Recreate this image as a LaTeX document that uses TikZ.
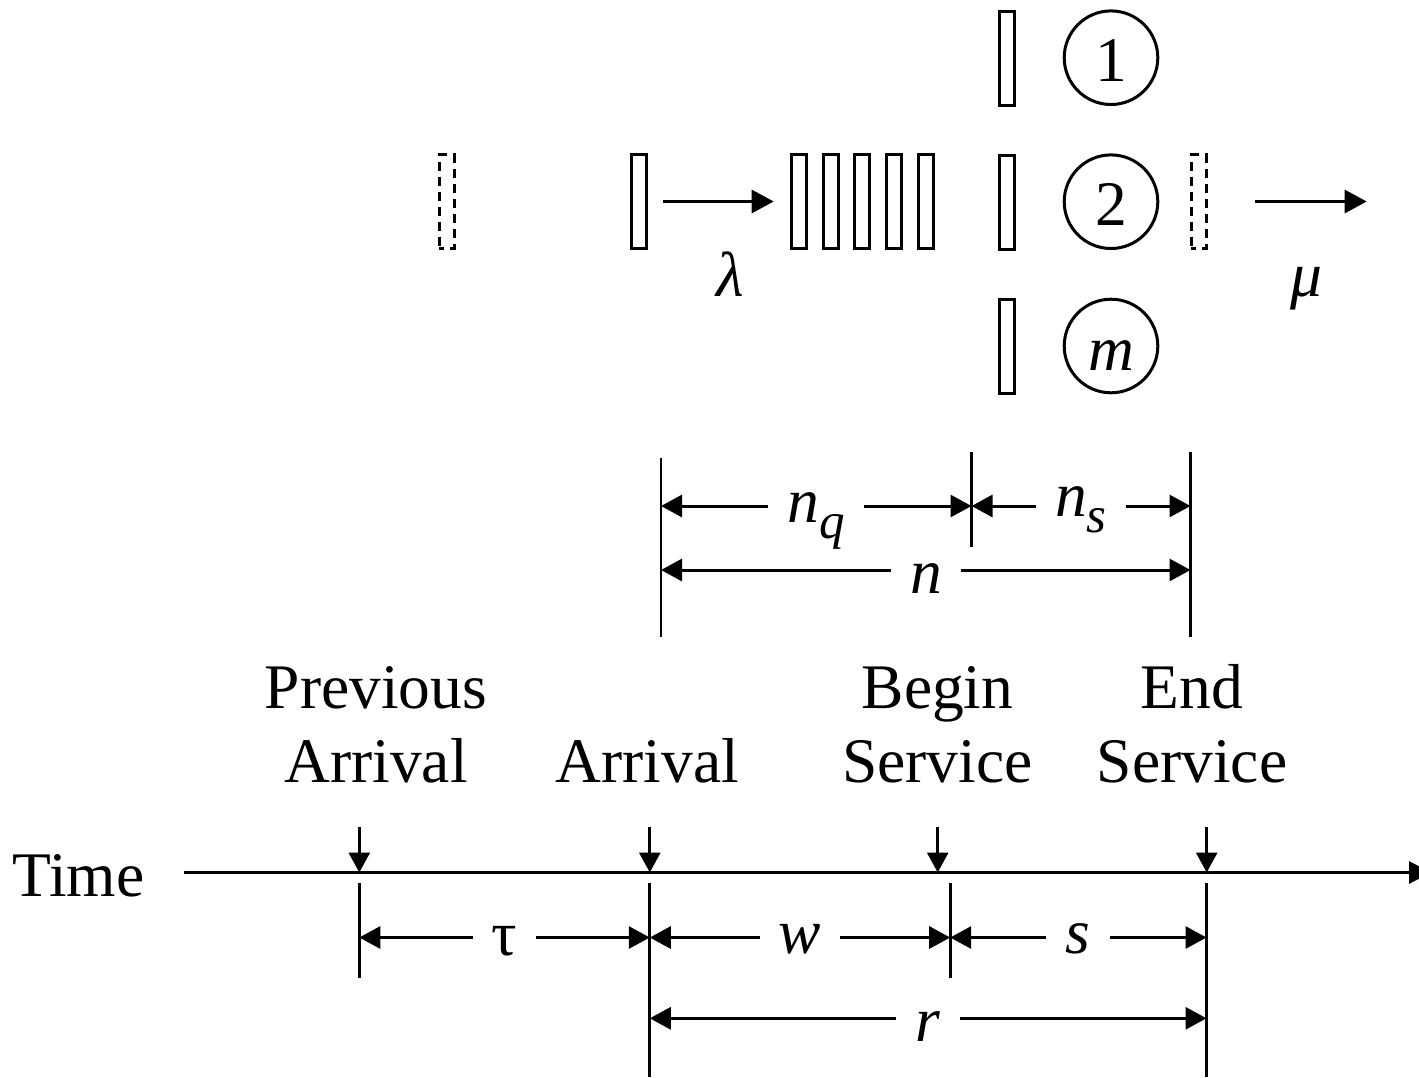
\documentclass[tikz,border=0pt]{standalone}
\usepackage{fontspec}
\setmainfont{Liberation Serif}
\usetikzlibrary{arrows.meta}
\newcommand\lowsub[1]{\raisebox{-16pt}{\fontsize{51pt}{51pt}\selectfont\textit{#1}}}
\tikzset{
  lbl/.style={font=\fontsize{63.5pt}{74.5pt}\selectfont, inner sep=0pt},
  dimlbl/.style={lbl, inner xsep=19pt},
  qbox/.style={draw, line width=3pt, minimum width=15pt, minimum height=94pt, inner sep=0pt},
  dbox/.style={qbox, line width=3pt, dash pattern=on 9pt off 6pt, dash phase=4pt},
  srv/.style={draw, circle, line width=3pt, minimum size=93.6pt, inner sep=0pt,
              text height=48pt, text depth=0pt, font=\fontsize{63.5pt}{74.5pt}\selectfont},
  flow/.style={line width=3pt, -{Triangle[length=22pt,width=23pt]}},
  dim/.style={line width=3pt, -{Triangle[length=21pt,width=22pt]}},
  tick/.style={line width=2.8pt, -{Triangle[length=20pt,width=21pt]}},
  vline/.style={line width=2.8pt},
  axisline/.style={line width=3pt, -{Triangle[length=22pt,width=22pt]}},
}
\begin{document}
\begin{tikzpicture}[x=1pt,y=-1pt]
\clip (0,0) rectangle (1419,1077);
\fill[white] (0,0) rectangle (1419,1077);

% ---------- queue system ----------
\node[dbox] (d0) at (446.7,201.5) {};
\node[qbox] (b0) at (639,201.5) {};
\foreach \i/\x in {1/798.7,2/830.5,3/862.3,4/894.1,5/925.9}
  \node[qbox] (q\i) at (\x,201.5) {};
\node[qbox] (w1) at (1006.7,58) {};
\node[qbox] (w2) at (1006.7,202) {};
\node[qbox] (w3) at (1006.7,346.3) {};
\node[srv] (s1) at (1111,57.7) {1};
\node[srv] (s2) at (1111,201.7) {2};
\node[srv] (s3) at (1111,346) {\textit{m}};
\node[dbox] (d1) at (1198.9,201.5) {};
\coordinate (muend) at (1366.7,201.5);
\draw[flow, shorten <=15pt, shorten >=16pt] (b0) -- (q1);
\draw[flow, shorten <=47pt] (d1) -- (muend);
\node[lbl, anchor=base] (lam) at (730,296.7) {\textit{λ}};
\node[lbl, anchor=base] (mu) at (1306.7,296.7) {\textit{μ}};

% ---------- n_q, n_s, n ----------
\coordinate (v1t) at (661,458);    \coordinate (v1b) at (661,636.7);
\coordinate (v2t) at (971.5,452);  \coordinate (v2b) at (971.5,547);
\coordinate (v3t) at (1190.5,452); \coordinate (v3b) at (1190.5,636.7);
\draw[vline] (v1t) -- (v1b);
\draw[vline] (v2t) -- (v2b);
\draw[vline] (v3t) -- (v3b);
\coordinate (nqA) at (661,506); \coordinate (nqB) at (971.5,506); \coordinate (nsB) at (1190.5,506);
\coordinate (nA) at (661,570);  \coordinate (nB) at (1190.5,570);
\node[dimlbl, anchor=base] (nqL) at (816,522) {\textit{n}\lowsub{q}};
\node[dimlbl, anchor=base] (nsL) at (1081,516) {\textit{n}\lowsub{s}};
\node[dimlbl, anchor=base] (nL) at (926,593) {\textit{n}};
\draw[dim] (nqL.west |- nqA) -- (nqA);
\draw[dim] (nqL.east |- nqB) -- (nqB);
\draw[dim] (nsL.west |- nqB) -- (nqB);
\draw[dim] (nsL.east |- nsB) -- (nsB);
\draw[dim] (nL.west |- nA) -- (nA);
\draw[dim] (nL.east |- nB) -- (nB);

% ---------- time axis ----------
\node[lbl, anchor=base] (time) at (78.5,896.7) {Time};
\coordinate (axs) at (184,872.5);
\coordinate (axe) at (1431,872.5);
\draw[axisline] (axs) -- (axe);

\node[lbl, align=center, anchor=base] (prev) at (376,782.5) {Previous\\Arrival};
\node[lbl, anchor=base] (arr) at (647.5,782.5) {Arrival};
\node[lbl, align=center, anchor=base] (begin) at (937.5,782.5) {Begin\\Service};
\node[lbl, align=center, anchor=base] (endS) at (1192,782.5) {End\\Service};

\coordinate (p1) at (359.3,872.5);
\coordinate (p2) at (649.8,872.5);
\coordinate (p3) at (937.7,872.5);
\coordinate (p4) at (1206.7,872.5);
\foreach \p in {p1,p2,p3,p4}
  \draw[tick] ([yshift=46pt]\p) -- (\p);

% vertical markers below the axis
\coordinate (c1t) at (359.3,882.7);  \coordinate (c1b) at (359.3,978);
\coordinate (c2t) at (649.8,882.7);  \coordinate (c2b) at (649.8,1077);
\coordinate (c3t) at (950.2,882.7);  \coordinate (c3b) at (950.2,978);
\coordinate (c4t) at (1206.5,882.7); \coordinate (c4b) at (1206.5,1077);
\draw[vline] (c1t) -- (c1b);
\draw[vline] (c2t) -- (c2b);
\draw[vline] (c3t) -- (c3b);
\draw[vline] (c4t) -- (c4b);

\coordinate (tA) at (359.3,937.5);  \coordinate (tB) at (649.8,937.5);
\coordinate (tC) at (950.2,937.5);  \coordinate (tD) at (1206.5,937.5);
\coordinate (rA) at (649.8,1018.3); \coordinate (rB) at (1206.5,1018.3);
\node[dimlbl, anchor=base] (tauL) at (504.5,955) {τ};
\node[dimlbl, anchor=base] (wL) at (800,953) {\textit{w}};
\node[dimlbl, anchor=base] (sL) at (1078,953) {\textit{s}};
\node[dimlbl, anchor=base] (rL) at (928,1041) {\textit{r}};
\draw[dim] (tauL.west |- tA) -- (tA);
\draw[dim] (tauL.east |- tB) -- (tB);
\draw[dim] (wL.west |- tB) -- (tB);
\draw[dim] (wL.east |- tC) -- (tC);
\draw[dim] (sL.west |- tC) -- (tC);
\draw[dim] (sL.east |- tD) -- (tD);
\draw[dim] (rL.west |- rA) -- (rA);
\draw[dim] (rL.east |- rB) -- (rB);
\end{tikzpicture}
\end{document}
